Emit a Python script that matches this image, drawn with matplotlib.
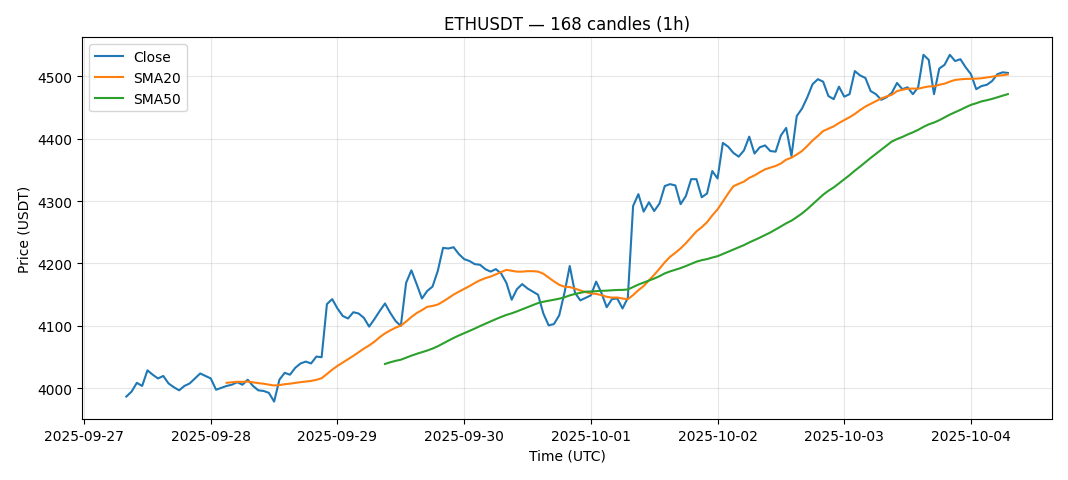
import matplotlib
matplotlib.use("Agg")
import matplotlib.pyplot as plt
import matplotlib.dates as mdates
import numpy as np
import pandas as pd

# hourly closes, 2025-09-27 08:00 UTC onward
close = [
    3987, 3995, 4009, 4004, 4029, 4022, 4016, 4020, 4008, 4002, 3997, 4004, 4008,
    4016, 4024, 4020, 4016, 3998, 4001, 4004, 4006, 4010, 4006, 4014, 4004, 3997,
    3996, 3993, 3979, 4014, 4025, 4022, 4033, 4040, 4043, 4040, 4051, 4050, 4135,
    4143, 4128, 4116, 4112, 4122, 4120, 4113, 4099, 4111, 4124, 4136, 4121, 4108, 4100,
    4169, 4189, 4167, 4144, 4156, 4163, 4188, 4225, 4224, 4226, 4215, 4207, 4204,
    4199, 4198, 4191, 4187, 4191, 4184, 4169, 4142, 4159, 4167, 4160, 4155, 4150, 4120,
    4101, 4103, 4117, 4153, 4196, 4153, 4141, 4145, 4149, 4171, 4153, 4130, 4143,
    4144, 4128, 4145, 4292, 4311, 4283, 4298, 4284, 4296, 4324, 4327, 4325, 4295,
    4308, 4335, 4335, 4306, 4312, 4348, 4336, 4393, 4387, 4377, 4371, 4381, 4403,
    4376, 4386, 4389, 4380, 4379, 4405, 4417, 4372, 4436, 4448, 4466, 4487, 4495, 4491,
    4468, 4463, 4483, 4467, 4471, 4508, 4501, 4497, 4476, 4471, 4462, 4466, 4473,
    4489, 4479, 4482, 4471, 4482, 4534, 4526, 4471, 4512, 4518, 4534, 4524, 4527,
    4514, 4503, 4479, 4484, 4486, 4492, 4503, 4506, 4505,
]
start_time = "2025-09-27 08:00"

times = pd.date_range(start_time, periods=len(close), freq="h")
s = pd.Series(close, index=times, dtype=float)
sma20 = s.rolling(20).mean()
sma50 = s.rolling(50).mean()

fig, ax = plt.subplots(figsize=(10.68, 4.81), dpi=100)
ax.plot(times, s.values, label="Close", color="#1f77b4", lw=1.5)
ax.plot(times, sma20.values, label="SMA20", color="#ff7f0e", lw=1.5)
ax.plot(times, sma50.values, label="SMA50", color="#2ca02c", lw=1.5)

ax.set_title("ETHUSDT \u2014 168 candles (1h)")
ax.set_xlabel("Time (UTC)")
ax.set_ylabel("Price (USDT)")
ax.xaxis.set_major_locator(mdates.DayLocator())
ax.xaxis.set_major_formatter(mdates.DateFormatter("%Y-%m-%d"))
ax.grid(True, alpha=0.3)
ax.legend(loc="upper left")

fig.subplots_adjust(left=0.077, right=0.985, top=0.92, bottom=0.127)
fig.savefig("out.png", dpi=100)
